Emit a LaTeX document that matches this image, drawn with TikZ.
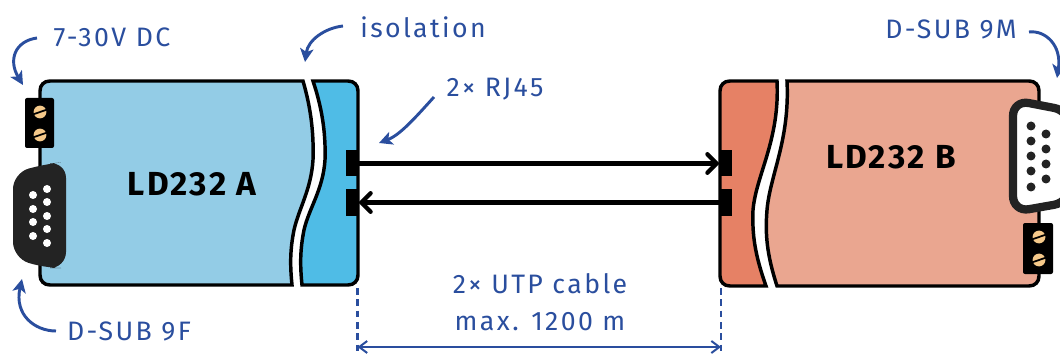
\documentclass[tikz,border=0pt]{standalone}
\usepackage{fontspec}
\setmainfont{Fira Sans}
\newfontfamily\lblfont[LetterSpace=9]{Fira Sans}
\newfontfamily\titlefont[LetterSpace=7]{Fira Sans}
\usepackage{xcolor}
\usetikzlibrary{arrows.meta}
\usetikzlibrary{calc}
\definecolor{dblue}{HTML}{2A4E9E}
\definecolor{bodyA}{HTML}{93CCE6}
\definecolor{isoA}{HTML}{4FBCE6}
\definecolor{bodyB}{HTML}{EAA690}
\definecolor{isoB}{HTML}{E68165}
\definecolor{shell}{HTML}{232323}
\definecolor{screwc}{HTML}{F5C98A}
\tikzstyle{part}=[line width=2.6pt,draw=black]
\tikzstyle{lbl}=[text=dblue,font=\lblfont\fontsize{20}{27.5}\selectfont,inner sep=0pt,align=center]
\tikzstyle{title}=[text=black,font=\titlefont\fontsize{25}{30}\selectfont\bfseries,inner sep=0pt]
\tikzstyle{rj}=[fill=black,inner sep=0pt,minimum width=9pt,minimum height=19.5pt]
\tikzstyle{cable}=[line width=3.2pt,-{Straight Barb[length=7pt,width=14pt,line cap=round]},line cap=round]
\tikzstyle{note}=[dblue,line width=2.2pt,-{Stealth[length=10pt,width=10pt,inset=2.5pt]}]
\tikzstyle{dim}=[dblue,line width=1.6pt,dash pattern=on 5pt off 3.5pt]
\tikzstyle{dimarrow}=[dblue,line width=1.5pt,{Straight Barb[length=6pt,width=9pt]}-{Straight Barb[length=6pt,width=9pt]}]
\tikzstyle{block}=[fill=black,rounded corners=1.5pt]
\tikzstyle{screw}=[fill=screwc,draw=none]
\newcommand\screwat[2]{%
  \fill[screw] (#1,#2) circle (6.4);
  \draw[line width=1.3pt] ($(#1,#2)+(-6.5,2.2)$) -- ($(#1,#2)+(6.5,-2.2)$);
}
\begin{document}
\begin{tikzpicture}[x=.75pt,y=-.75pt]
	\path[use as bounding box] (0,0) rectangle (1060,356);
	% module A
	\draw[part,fill=bodyA] (303,81) -- (50,81) .. controls (44,81) and (40,85) .. (40,91) -- (40,275) .. controls (40,281) and (44,285) .. (50,285) -- (292,285)
		.. controls (290,265) and (290,250) .. (294,230) .. controls (299,208) and (311,190) .. (313,160) .. controls (314,130) and (310,105) .. cycle;
	\draw[part,fill=isoA] (313,81) -- (348,81) .. controls (354,81) and (358,85) .. (358,91) -- (358,275) .. controls (358,281) and (354,285) .. (348,285) -- (302,285)
		.. controls (300,265) and (300,250) .. (304,230) .. controls (309,208) and (323,190) .. (325,160) .. controls (326,130) and (321,105) .. cycle;
	% module B
	\draw[part,fill=isoB] (777,81) -- (730,81) .. controls (724,81) and (720,85) .. (720,91) -- (720,276) .. controls (720,282) and (724,286) .. (730,286) -- (766,286)
		.. controls (755,255) and (752,235) .. (753,210) .. controls (756,175) and (780,140) .. cycle;
	\draw[part,fill=bodyB] (787,81) -- (1029,81) .. controls (1035,81) and (1039,85) .. (1039,91) -- (1039,276) .. controls (1039,282) and (1035,286) .. (1029,286) -- (777,286)
		.. controls (767,255) and (765,235) .. (767,210) .. controls (770,175) and (790,140) .. cycle;
	% connectors of A
	\fill[block] (25,98) rectangle (54,148);
	\screwat{40}{112}
	\screwat{40}{135}
	\fill[shell,rounded corners=12] (13,173) -- (45,164) -- (66,162) -- (66,268) -- (45,268) -- (13,258) -- cycle;
	\foreach \y in {195,209,222,236} \fill[white] (33,\y) circle (4);
	\foreach \y in {189,202,216,229,243} \fill[white] (47,\y) circle (4);
	% connectors of B
	\fill[block] (1023,223) rectangle (1053,274);
	\screwat{1039}{237}
	\screwat{1039}{260}
	\draw[line width=6.2pt,draw=shell,fill=white,rounded corners=12] (1013,100) -- (1070,111) -- (1070,202) -- (1013,212) -- cycle;
	\foreach \y in {126,141,156,171,187} \fill[shell] (1031,\y) circle (4.5);
	\foreach \y in {134,149,164,179} \fill[shell] (1046,\y) circle (4.5);
	% RJ45 sockets
	\node[rj] (rjA1) at (352,163.5) {};
	\node[rj] (rjA2) at (352,202.5) {};
	\node[rj] (rjB1) at (726,163.5) {};
	\node[rj] (rjB2) at (726,202.5) {};
	\draw[cable] (rjA1) -- (rjB1);
	\draw[cable] (rjB2) -- (rjA2);
	% labels
	\node[title] (nameA) at (192,184) {LD232 A};
	\node[title] (nameB) at (891,157) {LD232 B};
	\node[lbl] (power) at (112,37) {7-30V DC};
	\node[lbl] (dsubF) at (129,331) {D-SUB 9F};
	\node[lbl] (iso) at (423,27) {isolation};
	\node[lbl] (rjtxt) at (495,89) {2× RJ45};
	\node[lbl] (dsubM) at (951,29) {D-SUB 9M};
	\node[lbl] (cabletxt) at (540,302) {2× UTP cable\\max. 1200 m};
	% pointers
	\coordinate (pw) at (23,85);
	\coordinate (pf) at (22,279);
	\coordinate (pi) at (305,62);
	\coordinate (pr) at (379,143);
	\coordinate (pm) at (1057,78);
	\draw[note] (37,38) .. controls (15,41) and (8,60) .. (pw);
	\draw[note] (56,331) .. controls (35,331) and (14,315) .. (pf);
	\draw[note] (343,26) .. controls (325,28) and (308,40) .. (pi);
	\draw[note] (434,97) .. controls (415,118) and (400,135) .. (pr);
	\draw[note] (1029,32) .. controls (1045,30) and (1062,45) .. (pm);
	% dimension
	\coordinate (dimL) at (357.5,347);
	\coordinate (dimR) at (721,347);
	\draw[dim] (357.5,288) -- (dimL) -- ++(0,5);
	\draw[dim] (721,288) -- (dimR) -- ++(0,5);
	\draw[dimarrow] (dimL) -- (dimR);
\end{tikzpicture}
\end{document}
